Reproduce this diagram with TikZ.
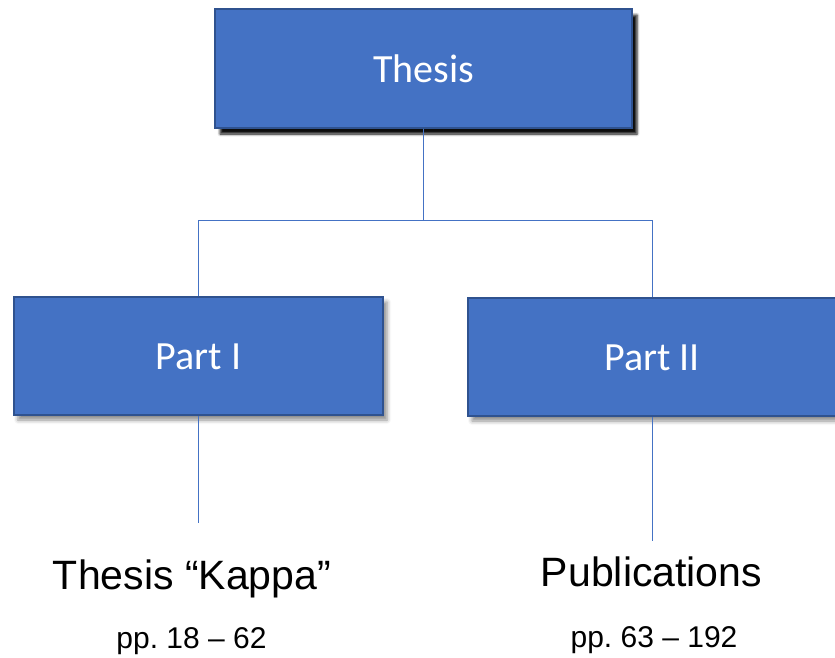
\documentclass[tikz,border=0pt]{standalone}
\usepackage{fontspec}
\setmainfont{Liberation Sans}
\newfontfamily\boxfont{Carlito}
\usetikzlibrary{shadows.blur}
\definecolor{boxfill}{HTML}{4472C4}
\definecolor{boxline}{HTML}{2F528F}
\definecolor{linkcol}{HTML}{4472C4}
\frenchspacing
\tikzset{
  partbox/.style={draw=boxline, line width=1.5pt, fill=boxfill, text=white,
    font=\boxfont\fontsize{40}{48}\selectfont, inner sep=0pt,
    text height=27pt, text depth=0pt, minimum height=118pt},
  softshadow/.style={blur shadow={shadow xshift=4pt, shadow yshift=-5pt,
    shadow blur radius=4pt, shadow opacity=45}},
  hardshadow/.style={blur shadow={shadow xshift=5pt, shadow yshift=-6pt,
    shadow blur radius=2.5pt, shadow opacity=95}},
  link/.style={draw=linkcol, line width=1pt},
  title/.style={font=\fontsize{41}{48}\selectfont, anchor=base, inner sep=0pt},
  pages/.style={font=\fontsize{30}{36}\selectfont, anchor=base, inner sep=0pt}
}
\begin{document}
\begin{tikzpicture}[x=1pt, y=-1pt]
\useasboundingbox (0,0) rectangle (835,657);

% boxes
\node[partbox, hardshadow, minimum width=417pt, minimum height=119pt]
  (thesis) at (423.5,68.5) {Thesis};
\node[partbox, softshadow, minimum width=369pt] (p1) at (198.5,356) {Part I};
\node[partbox, softshadow, minimum width=368pt] (p2) at (652,357) {Part II};

% labels under the parts
\node[title] (kappa) at (192,589) {Thesis “Kappa”};
\node[pages] (pp1) at (191.5,648) {pp. 18 – 62};
\node[title] (pubs) at (651.5,586) {Publications};
\node[pages] (pp2) at (654,647.5) {pp. 63 – 192};

% free ends of the lower connectors
\coordinate (end1) at (198.5,523);
\coordinate (end2) at (652,541);

% tree connectors
\draw[link] (thesis.south) -- ++(0,92) -| (p1.north);
\draw[link] (thesis.south) -- ++(0,92) -| (p2.north);
\draw[link] (p1.south) -- (end1);
\draw[link] (p2.south) -- (end2);
\end{tikzpicture}
\end{document}
